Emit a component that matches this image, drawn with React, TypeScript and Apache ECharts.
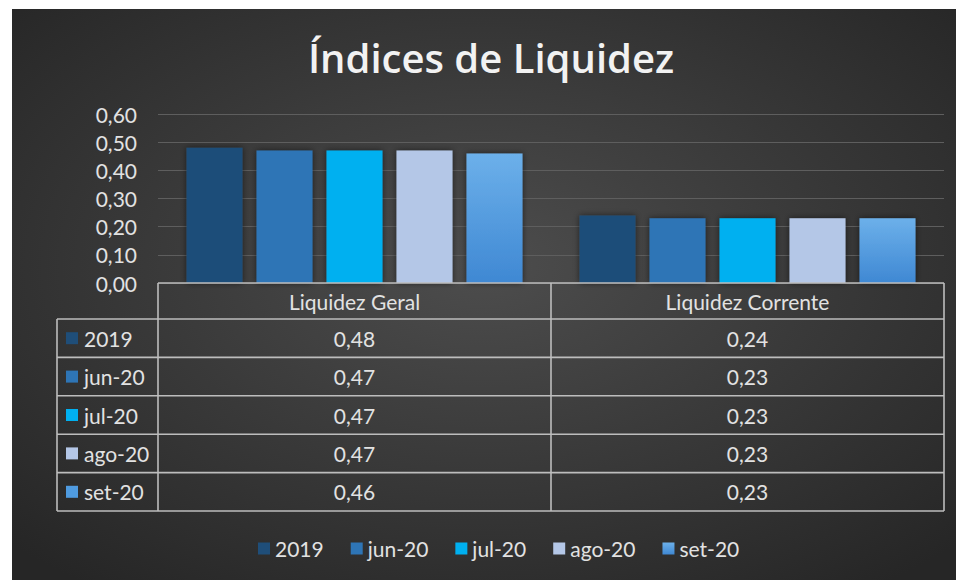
import React, { useEffect, useRef } from "react";
import * as echarts from "echarts";

const categories = ["Liquidez Geral", "Liquidez Corrente"];
const seriesNames = ["2019", "jun-20", "jul-20", "ago-20", "set-20"];
const geral = [0.48, 0.47, 0.47, 0.47, 0.46];
const corrente = [0.24, 0.23, 0.23, 0.23, 0.23];
const titleText = "Índices de Liquidez";

const fmt = (v: number) => v.toFixed(2).replace(".", ",");

export default function App() {
  const ref = useRef<HTMLDivElement>(null);
  useEffect(() => {
    if (!ref.current) return;
    const chart = echarts.init(ref.current, undefined, { renderer: "svg" });
    const W = 956;
    const H = 580;
    const gridL = 158;
    const gridR = 944;
    const gridT = 114;
    const gridB = 283;
    const FONT = "Lato";
    const TXT = "#e2e2e2";
    const LINE = "#bdbdbd";

    const colors: any[] = [
      "#1f4e79",
      "#2e75b6",
      "#00b0f0",
      "#b4c7e7",
      new echarts.graphic.LinearGradient(0, 0, 0, 1, [
        { offset: 0, color: "#6cb0ea" },
        { offset: 1, color: "#3f88d3" },
      ]),
    ];
    const swatch = ["#1f4e79", "#2e75b6", "#00b0f0", "#b4c7e7", "#4f9be0"];
    const values = seriesNames.map((_, i) => [geral[i], corrente[i]]);

    const headerH = 36;
    const rowH = 38.4;
    const labL = 57;
    const colW = (gridR - gridL) / categories.length;
    const graphics: any[] = [];

    graphics.push({
      type: "rect",
      z: -100,
      silent: true,
      shape: { x: 12, y: 9, width: W - 12, height: H - 9 },
      style: {
        fill: new echarts.graphic.RadialGradient(0.5, 0.45, 0.7, [
          { offset: 0, color: "#4d4d4d" },
          { offset: 1, color: "#262626" },
        ]),
      },
    });
    graphics.push({
      type: "text",
      z: 100,
      x: 491,
      y: 57,
      style: {
        text: titleText,
        font: `600 40px "Open Sans"`,
        fill: "#f2f2f2",
        align: "center",
        verticalAlign: "middle",
        shadowColor: "rgba(0,0,0,0.7)",
        shadowBlur: 4,
        shadowOffsetX: 1,
        shadowOffsetY: 2,
      },
    });

    const rowsTop = gridB + headerH;
    const tableBottom = rowsTop + rowH * seriesNames.length;
    const addLine = (x1: number, y1: number, x2: number, y2: number) =>
      graphics.push({
        type: "line",
        z: 100,
        silent: true,
        shape: { x1, y1, x2, y2 },
        style: { stroke: LINE, lineWidth: 1.6 },
      });
    addLine(gridL, gridB, gridR, gridB);
    for (let i = 0; i <= seriesNames.length; i++) {
      const y = rowsTop + i * rowH;
      addLine(labL, y, gridR, y);
    }
    addLine(labL, rowsTop, labL, tableBottom);
    for (let c = 0; c <= categories.length; c++) {
      const x = gridL + c * colW;
      addLine(x, gridB, x, tableBottom);
    }
    categories.forEach((cat, c) => {
      graphics.push({
        type: "text",
        z: 100,
        x: gridL + (c + 0.5) * colW,
        y: gridB + headerH / 2,
        style: {
          text: cat,
          font: `400 21px ${FONT}`,
          fill: TXT,
          align: "center",
          verticalAlign: "middle",
        },
      });
    });
    seriesNames.forEach((name, i) => {
      const cy = rowsTop + (i + 0.5) * rowH;
      graphics.push({
        type: "rect",
        z: 100,
        shape: { x: 66, y: cy - 6, width: 12, height: 12 },
        style: { fill: swatch[i] },
      });
      graphics.push({
        type: "text",
        z: 100,
        x: 84,
        y: cy,
        style: {
          text: name,
          font: `400 21px ${FONT}`,
          fill: TXT,
          align: "left",
          verticalAlign: "middle",
        },
      });
      values[i].forEach((v, c) => {
        graphics.push({
          type: "text",
          z: 100,
          x: gridL + (c + 0.5) * colW,
          y: cy,
          style: {
            text: fmt(v),
            font: `400 21px ${FONT}`,
            fill: TXT,
            align: "center",
            verticalAlign: "middle",
          },
        });
      });
    });

    chart.setOption({
      animation: false,
      textStyle: { fontFamily: FONT },
      grid: { left: gridL, right: W - gridR, top: gridT, bottom: H - gridB, containLabel: false },
      legend: {
        data: seriesNames,
        left: 253,
        top: 533,
        icon: "rect",
        itemWidth: 12,
        itemHeight: 12,
        itemGap: 27,
        textStyle: { color: TXT, fontSize: 21, fontFamily: FONT },
      },
      xAxis: {
        type: "category",
        data: categories,
        axisLine: { show: false },
        axisTick: { show: false },
        axisLabel: { show: false },
      },
      yAxis: {
        type: "value",
        min: 0,
        max: 0.6,
        interval: 0.1,
        axisLine: { show: false },
        axisTick: { show: false },
        axisLabel: {
          color: TXT,
          fontSize: 21,
          fontFamily: FONT,
          margin: 21,
          formatter: (v: number) => fmt(v),
        },
        splitLine: { lineStyle: { color: "#5e5e5e", width: 1.2 } },
      },
      series: seriesNames.map((name, i) => ({
        name,
        type: "bar",
        data: values[i],
        barWidth: 56,
        barGap: "25%",
        itemStyle: {
          color: colors[i],
          shadowColor: "rgba(0,0,0,0.55)",
          shadowBlur: 6,
        },
      })),
      graphic: graphics,
    });
    return () => chart.dispose();
  }, []);
  return (
    <div
      ref={ref}
      style={{ position: "absolute", left: 0, top: 0, width: 956, height: 580, background: "#ffffff" }}
    />
  );
}
